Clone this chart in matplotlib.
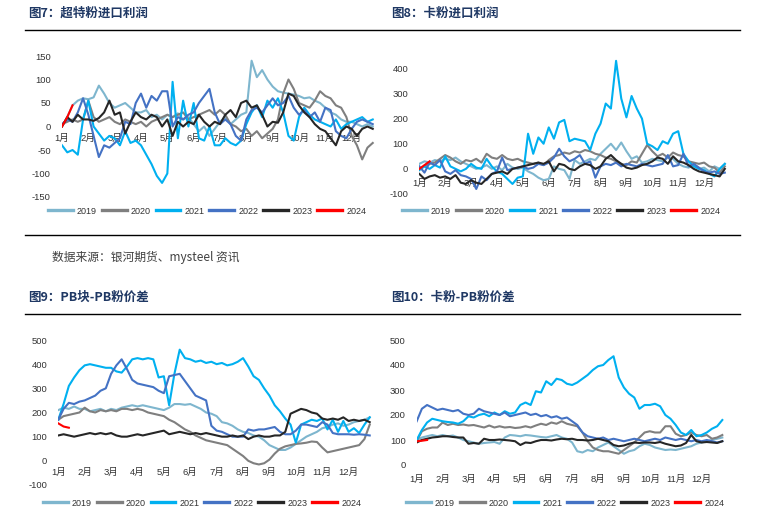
import matplotlib
matplotlib.use('Agg')
import matplotlib.pyplot as plt
import numpy as np
from matplotlib.lines import Line2D

plt.rcParams['font.family'] = ['Liberation Sans', 'Noto Sans CJK SC']
plt.rcParams['axes.unicode_minus'] = False

years = ['2019', '2020', '2021', '2022', '2023', '2024']
colors = ['#7EB6CE', '#7F7F7F', '#00B0F0', '#4472C4', '#262626', '#FF0000']
months = ['1月', '2月', '3月', '4月', '5月', '6月', '7月', '8月', '9月', '10月', '11月', '12月']
PTS = 5  # points per month

# 图7：超特粉进口利润
p7_2019 = [0, 20, 45, 55, 60, 58, 62, 87, 70, 50, 40, 45, 50, 40, 30, 30, 35, 20, 25, 15,
           25, 20, 28, 15, 20, 5, -10, 0, -20, -5, 10, 20, 5, 15, 25, 30, 140, 105, 120, 100,
           85, 75, 72, 70, 68, 65, 60, 62, 55, 50, 40, 30, 25, 15, 10, 10, 5, 0, 5, 0]
p7_2020 = [5, 10, 15, 10, 15, 55, 20, 10, 15, 20, 10, 5, 15, 10, 5, 10, 0, 10, 15, 20,
           25, 20, 25, 30, 15, 20, 25, 30, 35, 25, 35, 25, 5, 0, -10, -5, -20, -10, -25, -15,
           -5, 15, 70, 100, 80, 50, 45, 40, 55, 75, 65, 60, 45, 40, 20, -20, -40, -70, -45, -35]
p7_2021 = [-40, -55, -50, -60, 15, 55, 0, -15, -30, -20, -25, -40, -10, -35, -30, -40, -60, -80, -105, -120,
           -100, 95, -25, 55, 0, 50, -25, -30, 0, -40, -40, -25, -35, -40, -30, 5, 30, 45, 20, 55,
           40, 60, 30, -20, -30, 20, 40, 25, 15, 10, 5, 0, 15, -5, 5, 10, 15, 20, 10, 15]
p7_2022 = [5, 15, 10, 30, 60, 25, -20, -65, -40, -45, -35, -25, 10, 5, 50, 70, 40, 65, 55, 75,
           75, 0, 20, 15, 25, 30, 50, 65, 80, 30, 5, 15, 5, -20, -30, 15, 35, 40, 30, 45,
           60, 45, 50, 65, 40, 25, 35, 20, 30, 10, 40, 35, -10, -20, -25, -5, 10, 15, 10, 5]
p7_2023 = [0, 20, 10, 25, 15, 15, 12, 18, 30, 55, 25, 30, -15, 10, 30, 20, 15, 25, 20, 0,
           15, -20, 10, 0, 10, 5, 25, 10, 0, 10, 5, 25, 35, 20, 50, 55, 40, 45, 25, 0,
           10, 8, 30, 70, 65, 45, 30, 20, 5, -5, -10, -25, -40, -10, 0, -5, -20, -5, 0, -5]
p7_2024 = [0, 20, 45]

# 图8：卡粉进口利润
p8_2019 = [20, 30, 25, 35, 30, 40, 35, 45, 30, 20, 10, 0, 5, 15, 0, 10, -5, 20, 5, 0,
           5, -10, -20, -35, -45, -40, 10, 0, -5, -40, 35, 20, 30, 40, 35, 60, 80, 100, 75, 105,
           70, 40, 50, 25, 30, 40, 35, 30, 45, 40, 20, 10, 5, 15, 0, 5, -10, 10, 0, 20]
p8_2020 = [0, 10, 20, 25, 40, 55, 45, 30, 20, 35, 30, 40, 25, 60, 45, 40, 55, 40, 35, 40,
           30, 25, 20, 25, 15, 35, 50, 55, 65, 60, 70, 65, 75, 70, 60, 55, 45, 40, 30, 20,
           15, 30, 25, 60, 95, 70, 50, 60, 45, 65, 55, 50, 30, 25, 20, 25, 10, 5, -15, 10]
p8_2021 = [-5, 10, 0, 15, 5, 50, 10, 0, -10, 0, 20, 5, 0, 40, 10, -10, -20, -40, -60, -35,
           -30, 140, 60, 125, 100, 165, 120, 185, 195, 110, 120, 115, 110, 75, 140, 180, 260, 240, 430, 280,
           205, 290, 240, 200, 100, 90, 75, 110, 100, 140, 150, 60, 30, 10, 0, -5, -20, -30, 0, 20]
p8_2022 = [10, -15, 25, 15, 35, -10, -20, -5, -25, -30, -40, -80, -30, -45, -20, -10, 45, -5, 0, 5,
           10, 0, 5, 20, 15, 25, 45, 80, 50, 30, 40, 55, 20, 30, -35, 10, 20, 15, 25, 10,
           20, 15, 10, 20, 15, 10, 15, 20, 55, 10, 15, 60, 10, 20, 5, -10, -15, -10, -20, -15]
p8_2023 = [-20, -40, -30, -25, -35, -30, -40, -25, -55, -60, -45, -55, -60, -40, -20, -15, -10, -20, 0, 5,
           10, 15, 20, 25, 20, 30, -10, 20, 15, 0, -5, 10, 20, 15, 0, 10, 40, 55, 35, 20,
           5, 0, 5, 15, 20, 30, 45, 40, 20, 50, 30, 25, 15, 0, -10, -15, -20, -25, -30, 0]
p8_2024 = [0, 15, 30]

# 图9：PB块-PB粉价差
p9_2019 = [210, 220, 215, 225, 215, 215, 205, 210, 215, 205, 215, 210, 220, 225, 230, 225, 230, 225, 220, 215,
           210, 220, 235, 235, 232, 235, 225, 215, 200, 195, 185, 160, 155, 145, 130, 120, 115, 105, 100, 85,
           65, 55, 45, 45, 55, 70, 85, 100, 110, 120, 135, 140, 150, 155, 145, 150, 160, 165, 170, 180]
p9_2020 = [170, 185, 190, 195, 200, 220, 205, 200, 210, 205, 210, 205, 215, 215, 210, 215, 210, 200, 195, 190,
           185, 170, 160, 145, 130, 120, 105, 95, 85, 80, 75, 70, 65, 50, 35, 20, 0, -10, -15, -10,
           5, 30, 50, 60, 65, 70, 72, 75, 80, 78, 55, 35, 40, 45, 50, 55, 60, 65, 90, 150]
p9_2021 = [170, 235, 310, 345, 375, 395, 400, 395, 390, 385, 385, 370, 365, 390, 420, 425, 420, 425, 420, 345,
           350, 230, 360, 460, 425, 420, 410, 415, 405, 410, 400, 405, 395, 400, 410, 425, 390, 350, 335, 300,
           270, 230, 205, 175, 150, 75, 150, 160, 170, 165, 175, 130, 170, 120, 165, 120, 135, 115, 150, 180]
p9_2022 = [170, 215, 240, 235, 245, 250, 260, 270, 290, 300, 360, 395, 420, 380, 335, 320, 315, 310, 305, 290,
           280, 350, 355, 360, 330, 300, 270, 260, 250, 145, 125, 120, 110, 100, 100, 100, 130, 125, 130, 130,
           135, 140, 120, 110, 110, 125, 150, 150, 145, 140, 160, 150, 115, 110, 110, 110, 108, 110, 108, 105]
p9_2023 = [105, 110, 105, 100, 105, 110, 115, 110, 115, 110, 115, 105, 100, 100, 105, 110, 105, 110, 115, 120,
           125, 110, 115, 120, 115, 110, 115, 110, 115, 110, 105, 100, 100, 105, 100, 105, 90, 100, 105, 100,
           100, 105, 105, 120, 195, 205, 215, 210, 200, 195, 175, 170, 175, 170, 180, 165, 170, 165, 170, 160]
p9_2024 = [155, 142, 137]

# 图10：卡粉-PB粉价差
p10_2019 = [100, 110, 115, 120, 115, 120, 115, 118, 110, 100, 95, 90, 85, 88, 90, 92, 85, 110, 120, 118,
            115, 120, 118, 115, 112, 110, 115, 120, 110, 105, 90, 55, 50, 60, 55, 70, 80, 90, 75, 60,
            45, 55, 60, 75, 85, 80, 70, 65, 60, 62, 60, 65, 70, 75, 85, 90, 95, 100, 105, 110]
p10_2020 = [95, 135, 145, 150, 150, 170, 160, 165, 160, 162, 158, 160, 155, 150, 158, 150, 155, 150, 152, 148,
            150, 155, 150, 158, 165, 160, 170, 165, 175, 165, 160, 155, 130, 95, 70, 60, 55, 55, 50, 45,
            60, 75, 90, 110, 130, 135, 130, 130, 155, 155, 125, 115, 120, 130, 120, 115, 120, 105, 110, 120]
p10_2021 = [100, 140, 170, 185, 180, 175, 172, 170, 165, 175, 195, 190, 200, 205, 195, 210, 200, 215, 205, 210,
            240, 250, 240, 295, 290, 335, 320, 345, 340, 325, 320, 330, 345, 360, 380, 395, 400, 420, 435, 350,
            310, 285, 270, 225, 240, 240, 245, 235, 200, 185, 160, 130, 120, 140, 115, 120, 130, 145, 155, 180]
p10_2022 = [175, 225, 240, 230, 220, 225, 220, 215, 220, 205, 200, 205, 225, 215, 210, 205, 200, 210, 195, 200,
            205, 210, 200, 205, 195, 200, 190, 195, 185, 190, 175, 160, 130, 115, 110, 105, 110, 100, 105, 100,
            95, 100, 105, 100, 95, 100, 105, 100, 110, 105, 100, 105, 100, 95, 100, 95, 100, 95, 90, 95]
p10_2023 = [90, 100, 105, 110, 112, 115, 115, 112, 110, 110, 85, 88, 85, 105, 100, 100, 102, 100, 98, 95,
            80, 90, 88, 95, 100, 100, 98, 102, 105, 103, 105, 100, 100, 98, 100, 105, 100, 95, 80, 75,
            78, 85, 90, 88, 90, 90, 88, 92, 85, 80, 75, 78, 88, 120, 95, 90, 92, 90, 88, 95]
p10_2024 = [95, 97, 100]

W, H = 762, 518


def fx(px):
    return px / W


def fy(py):
    return 1 - py / H


def draw_panel(ax, series, ylim, yticks, label_pad, legend_xy):
    lines = []
    for vals, year, color in zip(series, years, colors):
        x = np.arange(len(vals)) / PTS
        ln, = ax.plot(x, vals, color=color, lw=1.5, label=year, solid_joinstyle='round')
        lines.append(ln)
    ax.set_xlim(0, 12)
    ax.set_ylim(*ylim)
    ax.set_yticks(yticks)
    ax.set_xticks(range(12))
    ax.set_xticklabels(months)
    for s in ['top', 'right', 'left']:
        ax.spines[s].set_visible(False)
    ax.spines['bottom'].set_position(('data', 0))
    ax.spines['bottom'].set_visible(False)
    ax.tick_params(length=0, labelsize=6.8, colors='#333333')
    ax.tick_params(axis='y', pad=8)
    ax.tick_params(axis='x', pad=label_pad)
    ax.patch.set_alpha(0)
    leg = ax.legend(handles=lines, loc='center', ncol=6, frameon=False, fontsize=6.5,
                    bbox_to_anchor=(fx(legend_xy[0]), fy(legend_xy[1])),
                    bbox_transform=ax.figure.transFigure,
                    handlelength=2.75, handletextpad=0.45, columnspacing=0.55)
    for h in leg.get_lines():
        h.set_linewidth(2.4)
    for t in leg.get_texts():
        t.set_color('#333333')


fig = plt.figure(figsize=(7.62, 5.18), dpi=100)
fig.patch.set_facecolor('white')

ax7 = fig.add_axes([fx(62), fy(197), fx(316), 141 / H])
ax8 = fig.add_axes([fx(419.3), fy(194), fx(310.7), 138.2 / H])
ax9 = fig.add_axes([fx(58.3), fy(485), fx(316.7), 145 / H])
ax10 = fig.add_axes([fx(416.7), fy(465), fx(310.8), 125 / H])

draw_panel(ax7, [p7_2019, p7_2020, p7_2021, p7_2022, p7_2023, p7_2024],
           (-150, 150), range(-150, 151, 50), 5, (207, 211))
draw_panel(ax8, [p8_2019, p8_2020, p8_2021, p8_2022, p8_2023, p8_2024],
           (-100, 450), range(-100, 401, 100), 7, (561, 211))
draw_panel(ax9, [p9_2019, p9_2020, p9_2021, p9_2022, p9_2023, p9_2024],
           (-100, 500), range(-100, 501, 100), 5, (202, 503))
draw_panel(ax10, [p10_2019, p10_2020, p10_2021, p10_2022, p10_2023, p10_2024],
           (0, 500), range(0, 501, 100), 7, (565, 503))

title_color = '#1F3864'
title_kw = dict(fontsize=9, weight='bold', color=title_color, va='center', ha='left',
                family=['Noto Sans CJK SC'])
fig.text(fx(28), fy(13), '图7：超特粉进口利润', **title_kw)
fig.text(fx(391), fy(13), '图8：卡粉进口利润', **title_kw)
fig.text(fx(28), fy(297), '图9：PB块-PB粉价差', **title_kw)
fig.text(fx(391), fy(297), '图10：卡粉-PB粉价差', **title_kw)

for yy in [30, 235, 314]:
    fig.add_artist(Line2D([fx(25), fx(740)], [fy(yy), fy(yy)], color='black', lw=1.0,
                          transform=fig.transFigure))

fig.text(fx(52), fy(257), '数据来源：银河期货、mysteel 资讯', fontsize=8.5, color='#404040',
         va='center', ha='left', family=['Noto Sans CJK SC'])

fig.savefig('out.png', dpi=100)
